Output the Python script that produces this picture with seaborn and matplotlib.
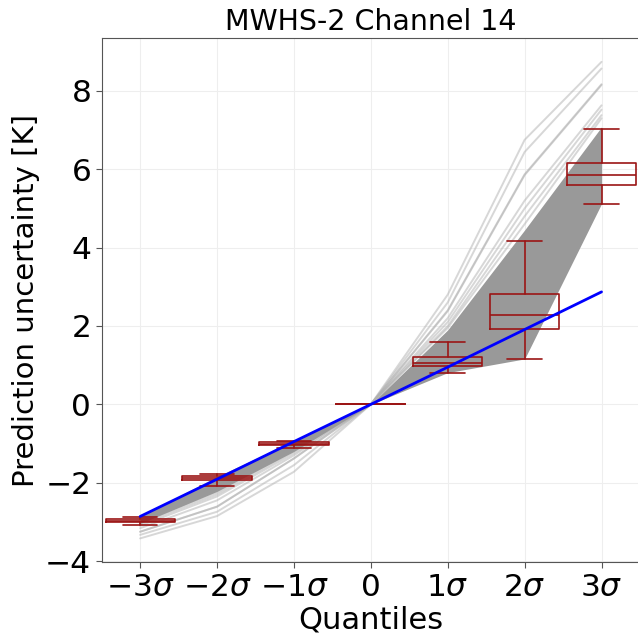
import numpy as np
import pandas as pd
import seaborn as sns
import matplotlib
matplotlib.use("Agg")
import matplotlib.pyplot as plt

# quantile positions (in sigma) and tick labels
quantiles = [-3, -2, -1, 0, 1, 2, 3]
tick_labels = [r"$-3\sigma$", r"$-2\sigma$", r"$-1\sigma$", "0",
               r"$1\sigma$", r"$2\sigma$", r"$3\sigma$"]

# gaussian reference (blue)
gauss = [-2.86, -1.91, -0.95, 0.0, 0.95, 1.91, 2.87]

# envelope of the dense bundle of predicted quantile curves
band_lo = [-3.04, -2.22, -1.20, 0.0, 0.81, 1.16, 5.12]
band_hi = [-2.85, -1.84, -0.93, 0.0, 1.90, 4.45, 7.08]

# individual outlying curves (light gray)
outliers = {
    "c1": [-3.42, -2.85, -1.72, 0.0, 2.80, 6.75, 8.74],
    "c2": [-3.33, -2.74, -1.55, 0.0, 2.60, 6.44, 8.57],
    "c3": [-3.25, -2.61, -1.38, 0.0, 2.40, 5.87, 8.17],
    "c4": [-3.25, -2.61, -1.38, 0.0, 2.38, 5.85, 8.15],
    "c5": [-3.16, -2.45, -1.30, 0.0, 2.20, 5.20, 7.63],
    "c6": [-3.10, -2.35, -1.25, 0.0, 2.10, 5.00, 7.52],
    "c7": [-3.05, -2.30, -1.20, 0.0, 2.00, 4.80, 7.38],
    "c8": [-3.00, -2.25, -1.15, 0.0, 1.95, 4.60, 7.30],
}

# box statistics at each quantile
whislo = [-3.07, -2.08, -1.11, 0.0, 0.81, 1.16, 5.12]
q1 = [-3.01, -1.94, -1.04, 0.0, 0.98, 1.92, 5.59]
med = [-2.97, -1.89, -1.00, 0.0, 1.06, 2.29, 5.86]
q3 = [-2.93, -1.84, -0.97, 0.0, 1.21, 2.82, 6.17]
whishi = [-2.87, -1.77, -0.93, 0.0, 1.58, 4.18, 7.03]

sns.set_style("whitegrid", {"grid.color": "#eeeeee", "axes.edgecolor": "#555555",
                            "text.color": "black", "xtick.color": "black",
                            "ytick.color": "black", "axes.labelcolor": "black"})
plt.rcParams["font.family"] = ["DejaVu Sans"]

fig = plt.figure(figsize=(6.38, 6.43), dpi=100)
ax = fig.add_axes([0.1594, 0.1255, 0.8437, 0.8149])

long = pd.DataFrame(
    [(k, q, v) for k, vals in outliers.items() for q, v in zip(quantiles, vals)],
    columns=["curve", "q", "value"],
)
sns.lineplot(data=long, x="q", y="value", units="curve", estimator=None,
             color="#b0b0b0", alpha=0.5, lw=1.4, ax=ax, legend=False)

ax.fill_between(quantiles, band_lo, band_hi, color="#999999", lw=0, zorder=2)

stats = [dict(whislo=a, q1=b, med=c, q3=d, whishi=e, fliers=[])
         for a, b, c, d, e in zip(whislo, q1, med, q3, whishi)]
red = "#9b1515"
ax.bxp(stats, positions=quantiles, widths=0.9, showfliers=False,
       boxprops=dict(color=red, lw=1.2), medianprops=dict(color=red, lw=1.2),
       whiskerprops=dict(color=red, lw=1.2), capprops=dict(color=red, lw=1.2),
       manage_ticks=False, zorder=3)

sns.lineplot(x=quantiles, y=gauss, color="blue", lw=2, ax=ax, zorder=4)

ax.set_xlim(-3.5, 3.5)
ax.set_ylim(-4.03, 9.34)
ax.set_xticks(quantiles)
ax.set_xticklabels(tick_labels)
ax.set_yticks([-4, -2, 0, 2, 4, 6, 8])
ax.tick_params(axis="both", labelsize=22.5, length=4, color="#555555",
               labelcolor="black", left=True, bottom=True)
ax.spines["right"].set_visible(False)
ax.set_xlabel("Quantiles", fontsize=22, labelpad=3, color="black")
ax.set_ylabel("Prediction uncertainty [K]", fontsize=21, color="black")
ax.set_title("MWHS-2 Channel 14", fontsize=20.5, color="black")

fig.savefig("out.png", dpi=100)
